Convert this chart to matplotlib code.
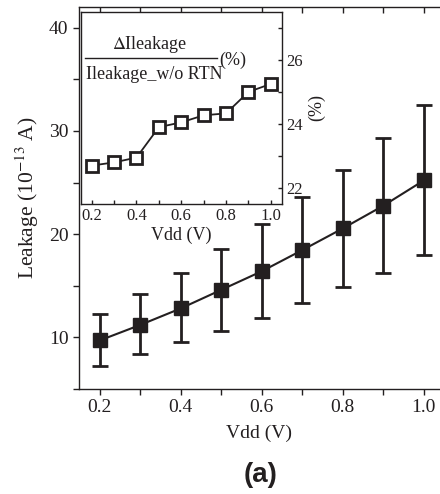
import numpy as np
import matplotlib
matplotlib.use('Agg')
import matplotlib.pyplot as plt
from matplotlib.ticker import MultipleLocator, FormatStrFormatter

# main panel: leakage vs Vdd with error bars
vdd = [0.2, 0.3, 0.4, 0.5, 0.6, 0.7, 0.8, 0.9, 1.0]
leak = [9.7, 11.2, 12.8, 14.6, 16.4, 18.45, 20.55, 22.75, 25.2]
leak_hi = [12.25, 14.2, 16.2, 18.6, 21.0, 23.55, 26.25, 29.3, 32.55]
leak_lo = [7.25, 8.35, 9.55, 10.65, 11.9, 13.35, 14.85, 16.25, 18.0]

# inset: relative change (%)
pct = [22.7, 22.8, 22.95, 23.9, 24.05, 24.27, 24.33, 25.0, 25.25]

col = '#231f20'
plt.rcParams['font.family'] = ['Liberation Serif', 'DejaVu Serif']
plt.rcParams['mathtext.fontset'] = 'stix'

fig = plt.figure(figsize=(4.4, 4.94), dpi=100)
ax = fig.add_axes([0.1795, 0.2126, 0.8205, 0.7732])

err = [np.array(leak) - np.array(leak_lo), np.array(leak_hi) - np.array(leak)]
ax.errorbar(vdd, leak, yerr=err, color=col, lw=1.5, elinewidth=2.0,
            capsize=6, capthick=2.0, marker='s', ms=9.5, mfc=col, mec=col)

ax.set_xlim(0.149, 1.04)
ax.set_ylim(5, 42)
ax.xaxis.set_major_locator(MultipleLocator(0.2))
ax.xaxis.set_minor_locator(MultipleLocator(0.1))
ax.yaxis.set_major_locator(MultipleLocator(10))
ax.yaxis.set_minor_locator(MultipleLocator(5))
ax.xaxis.set_major_formatter(FormatStrFormatter('%.1f'))
ax.spines['right'].set_visible(False)
for s in ['left', 'bottom', 'top']:
    ax.spines[s].set_linewidth(1.0)
    ax.spines[s].set_color(col)
ax.tick_params(axis='both', which='both', direction='out', length=4, width=1,
               color=col, labelsize=14, labelcolor=col, top=False)
ax.set_xlabel('Vdd (V)', fontsize=14, color=col, labelpad=6)
ax.set_ylabel(r'Leakage (10$^{-13}$ A)', fontsize=15.5, color=col, labelpad=6)

# inward ticks along the top edge
top = ax.twiny()
top.set_xlim(ax.get_xlim())
top.xaxis.set_major_locator(MultipleLocator(0.2))
top.xaxis.set_minor_locator(MultipleLocator(0.1))
top.tick_params(which='both', direction='in', length=4, width=1, color=col,
                labeltop=False, top=True, bottom=False)
for s in top.spines.values():
    s.set_visible(False)

fig.text(0.593, 0.038, '(a)', fontsize=20, fontweight='bold',
         family='Liberation Sans', ha='center', va='center', color=col)

# inset
ins = fig.add_axes([0.184, 0.587, 0.457, 0.389])
ins.plot(vdd, pct, color=col, lw=1.3, marker='s', ms=8.5, mfc='white',
         mec=col, mew=2.0)
ins.set_xlim(0.152, 1.05)
ins.set_ylim(21.5, 27.5)
ins.xaxis.set_major_locator(MultipleLocator(0.2))
ins.xaxis.set_minor_locator(MultipleLocator(0.1))
ins.xaxis.set_major_formatter(FormatStrFormatter('%.1f'))
ins.yaxis.set_major_locator(MultipleLocator(2))
ins.yaxis.set_minor_locator(MultipleLocator(1))
ins.yaxis.tick_right()
ins.yaxis.set_label_position('right')
for s in ins.spines.values():
    s.set_linewidth(1.0)
    s.set_color(col)
ins.tick_params(axis='both', which='both', direction='in', length=3, width=1,
                color=col, labelsize=12, labelcolor=col, pad=3)
ins.tick_params(axis='y', which='both', left=False, right=True)
ins.set_xlabel('Vdd (V)', fontsize=13, color=col, labelpad=2)
ins.set_ylabel('(%)', fontsize=13, color=col, labelpad=4)

ins.text(0.343, 0.828, r'$\Delta$Ileakage', transform=ins.transAxes,
         fontsize=13, ha='center', va='center', color=col)
ins.plot([0.02, 0.677], [0.76, 0.76], transform=ins.transAxes, color=col,
         lw=1.0, clip_on=False)
ins.text(0.025, 0.672, 'Ileakage_w/o RTN', transform=ins.transAxes,
         fontsize=13, ha='left', va='center', color=col)
ins.text(0.69, 0.75, '(%)', transform=ins.transAxes,
         fontsize=13, ha='left', va='center', color=col)

fig.savefig('out.png', dpi=100)
